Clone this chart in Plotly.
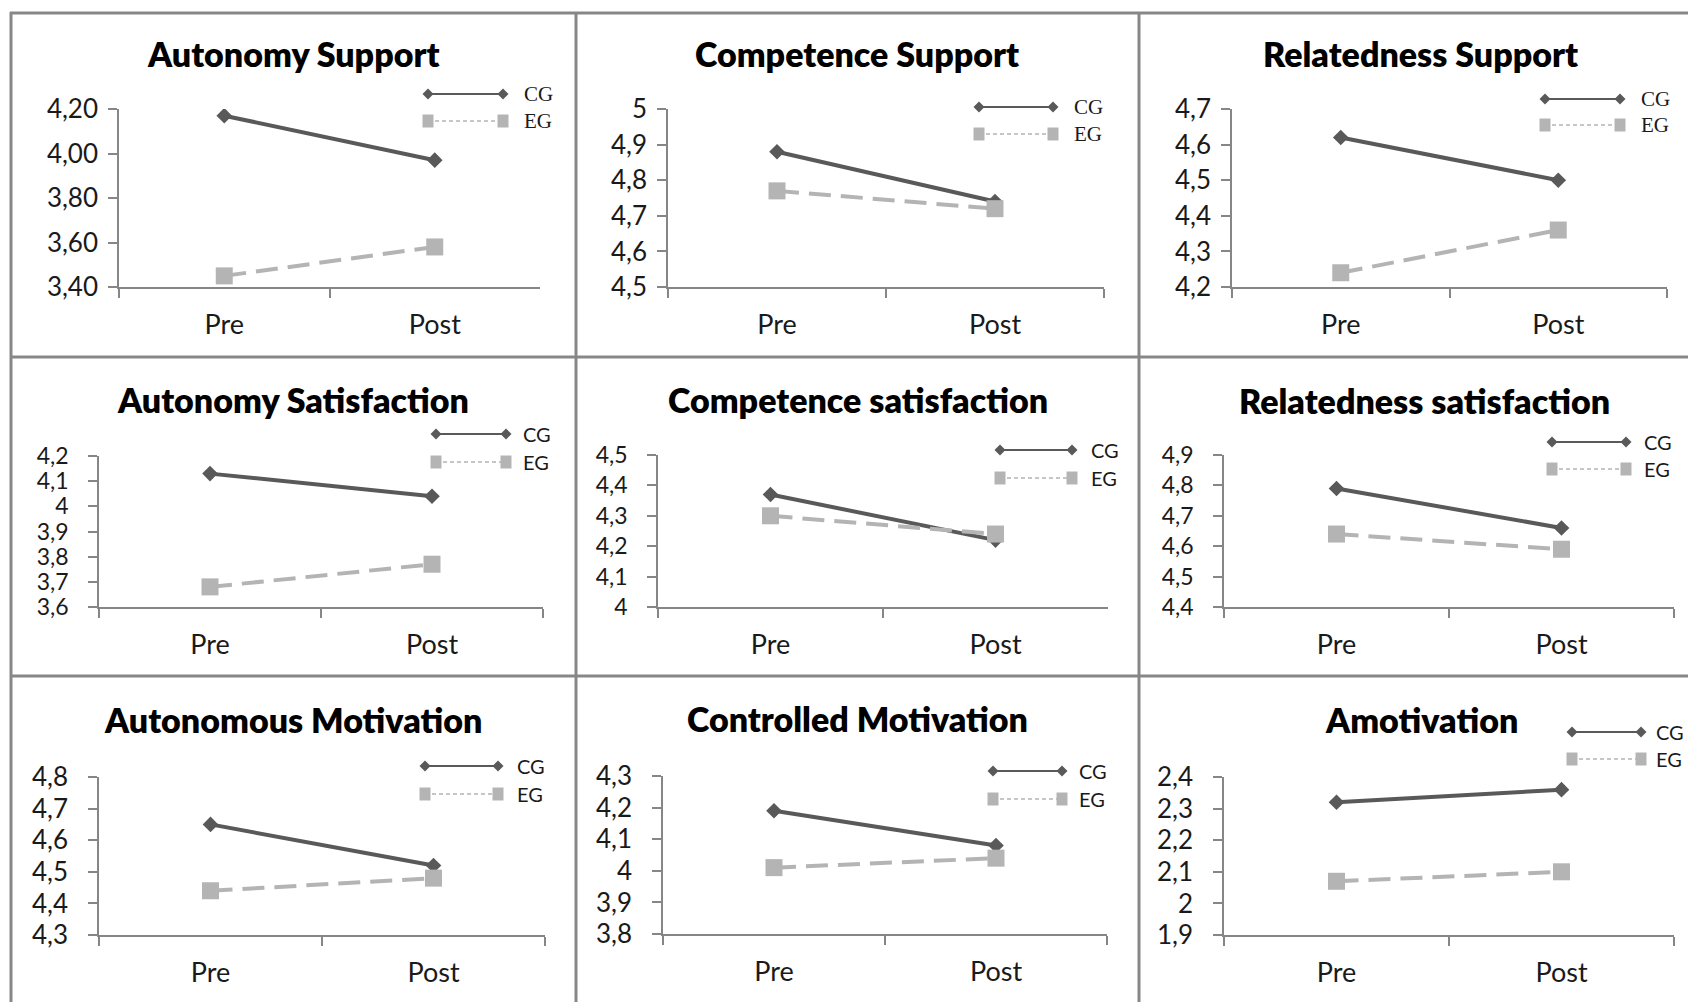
import plotly.graph_objects as go

# ---------------- data ----------------
categories = ["Pre", "Post"]
titles = ["Autonomy Support", "Competence Support", "Relatedness Support",
          "Autonomy Satisfaction", "Competence satisfaction", "Relatedness satisfaction",
          "Autonomous Motivation", "Controlled Motivation", "Amotivation"]
series_names = ["CG", "EG"]
cg_values = [[4.17, 3.97], [4.88, 4.74], [4.62, 4.50],
             [4.13, 4.04], [4.37, 4.22], [4.79, 4.66],
             [4.65, 4.52], [4.19, 4.08], [2.32, 2.36]]
eg_values = [[3.45, 3.58], [4.77, 4.72], [4.24, 4.36],
             [3.68, 3.77], [4.30, 4.24], [4.64, 4.59],
             [4.44, 4.48], [4.01, 4.04], [2.07, 2.10]]
y_min = [3.40, 4.5, 4.2, 3.6, 4.0, 4.4, 4.3, 3.8, 1.9]
y_max = [4.20, 5.0, 4.7, 4.2, 4.5, 4.9, 4.8, 4.3, 2.4]
y_step = [0.20, 0.1, 0.1, 0.1, 0.1, 0.1, 0.1, 0.1, 0.1]
y_format = [".2f", "", "", "", "", "", "", "", ""]

# ---------------- layout geometry (pixels) ----------------
W, H = 1688, 1002
# plot areas: x0, x1, ytop, ybottom
areas = [(119, 540, 109, 287), (668, 1104, 109, 287), (1232, 1667, 109, 287),
         (99, 543, 456, 607), (658, 1108, 455, 607), (1224, 1674, 455, 607),
         (99, 545, 777, 935), (663, 1107, 776, 934), (1224, 1674, 777, 935)]
title_pos = [(293, 54), (857, 54), (1421, 54),
             (293, 399), (858, 399), (1424, 400),
             (293, 719), (857, 718), (1421, 719)]
# legend: line x0, line x1, y CG, y EG, text x
legend_pos = [(428, 503, 94, 121, 522), (979, 1053, 107, 134, 1072), (1545, 1620, 99, 125, 1639),
              (436, 506, 434, 462, 521), (1000, 1072, 450, 478, 1089), (1552, 1626, 442, 469, 1642),
              (425, 498, 766, 794, 515), (993, 1062, 771, 799, 1077), (1572, 1641, 732, 759, 1654)]
ytick_size = [26, 26, 26, 23, 23, 23, 26, 26, 26]
ytick_standoff = [5, 5, 5, 15, 15, 15, 15, 15, 15]

CG_COLOR = "#595959"
EG_COLOR = "#b4b4b4"
AXIS_COLOR = "#868686"
BORDER_COLOR = "#878787"
TEXT_COLOR = "#1a1a1a"
FONT = "Lato"


def px(x):
    return x / W


def py(y):
    return 1 - y / H


fig = go.Figure()
shapes = []
annotations = []

for i in range(9):
    sfx = "" if i == 0 else str(i + 1)
    x0, x1, yt, yb = areas[i]
    fig.add_trace(go.Scatter(
        x=categories, y=cg_values[i], name=series_names[0], mode="lines+markers",
        xaxis="x" + sfx, yaxis="y" + sfx, showlegend=False,
        line=dict(color=CG_COLOR, width=4),
        marker=dict(symbol="diamond", size=12, color=CG_COLOR)))
    fig.add_trace(go.Scatter(
        x=categories, y=eg_values[i], name=series_names[1], mode="lines+markers",
        xaxis="x" + sfx, yaxis="y" + sfx, showlegend=False,
        line=dict(color=EG_COLOR, width=4, dash="22px,10px"),
        marker=dict(symbol="square", size=17, color=EG_COLOR)))

    fig.update_layout(**{
        "xaxis" + sfx: dict(
            domain=[px(x0), px(x1)], anchor="y" + sfx, type="category",
            range=[-0.5, 1.5], tickson="boundaries", ticks="outside", ticklen=9,
            tickwidth=1.5, tickcolor=AXIS_COLOR, showline=True, linecolor=AXIS_COLOR,
            linewidth=1.5, showgrid=False, zeroline=False, ticklabelstandoff=13,
            automargin=False,
            tickfont=dict(family=FONT, size=27, color=TEXT_COLOR)),
        "yaxis" + sfx: dict(
            domain=[py(yb), py(yt)], anchor="x" + sfx, range=[y_min[i], y_max[i]],
            dtick=y_step[i], tick0=y_min[i], tickformat=y_format[i], ticks="outside", ticklen=9,
            tickwidth=1.5, tickcolor=AXIS_COLOR, showline=True, linecolor=AXIS_COLOR,
            linewidth=1.5, showgrid=False, zeroline=False, automargin=False,
            ticklabelstandoff=ytick_standoff[i],
            tickfont=dict(family=FONT, size=ytick_size[i], color=TEXT_COLOR)),
    })

    # title
    tx, ty = title_pos[i]
    annotations.append(dict(
        x=px(tx), y=py(ty), xref="paper", yref="paper", text=titles[i], showarrow=False,
        xanchor="center", yanchor="middle",
        font=dict(family=FONT, size=34, color="#000000", weight=800)))

    # custom legend
    lx0, lx1, ycg, yeg, ltx = legend_pos[i]
    serif = i < 3
    lfont = dict(family="Liberation Serif" if serif else FONT, size=21 if serif else 20,
                 color=TEXT_COLOR)
    shapes.append(dict(type="line", xref="paper", yref="paper",
                       x0=px(lx0), x1=px(lx1), y0=py(ycg), y1=py(ycg),
                       line=dict(color=CG_COLOR, width=2)))
    shapes.append(dict(type="line", xref="paper", yref="paper",
                       x0=px(lx0), x1=px(lx1), y0=py(yeg), y1=py(yeg),
                       line=dict(color=EG_COLOR, width=1.5, dash="4px,3px")))
    for ex in (lx0, lx1):
        d = 5.5
        shapes.append(dict(type="path", xref="paper", yref="paper",
                           path=f"M {px(ex - d)} {py(ycg)} L {px(ex)} {py(ycg - d)} "
                                f"L {px(ex + d)} {py(ycg)} L {px(ex)} {py(ycg + d)} Z",
                           fillcolor=CG_COLOR, line=dict(width=0)))
        s = 5.5
        shapes.append(dict(type="rect", xref="paper", yref="paper",
                           x0=px(ex - s), x1=px(ex + s), y0=py(yeg + s + 1), y1=py(yeg - s - 1),
                           fillcolor=EG_COLOR, line=dict(width=0)))
    for name, yy in ((series_names[0], ycg), (series_names[1], yeg)):
        annotations.append(dict(
            x=px(ltx), y=py(yy), xref="paper", yref="paper", text=name, showarrow=False,
            xanchor="left", yanchor="middle", font=lfont))

# panel borders
for yy in (13, 357, 676):
    shapes.append(dict(type="line", xref="paper", yref="paper", x0=px(10), x1=1,
                       y0=py(yy), y1=py(yy), line=dict(color=BORDER_COLOR, width=3)))
for xx in (11, 576, 1139):
    shapes.append(dict(type="line", xref="paper", yref="paper", x0=px(xx), x1=px(xx),
                       y0=0, y1=py(12), line=dict(color=BORDER_COLOR, width=3)))

fig.update_layout(
    width=W, height=H, autosize=False, margin=dict(l=0, r=0, t=0, b=0, pad=0),
    paper_bgcolor="white", plot_bgcolor="white",
    separators=",.", showlegend=False,
    shapes=shapes, annotations=annotations,
)

fig.write_html(
    "out.html",
    config={"displayModeBar": False},
    post_script="document.body.style.margin='0';document.body.style.padding='0';"
                "document.body.style.overflow='hidden';",
)
